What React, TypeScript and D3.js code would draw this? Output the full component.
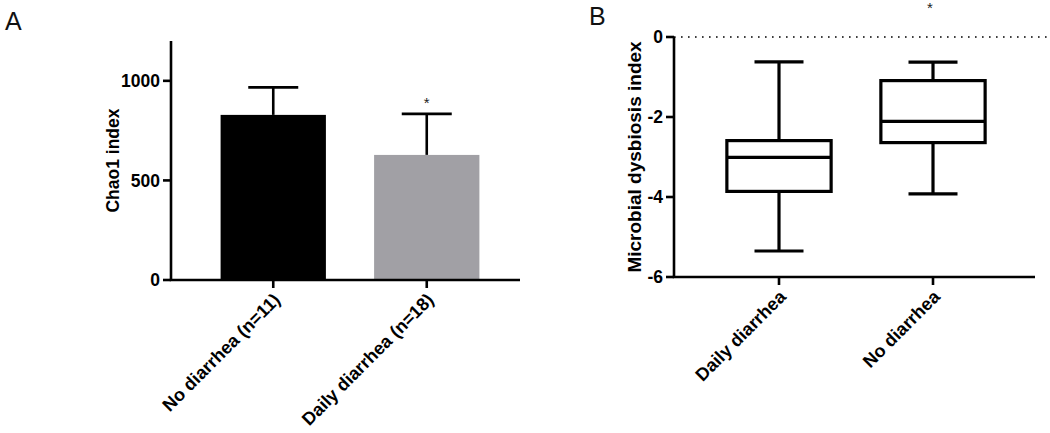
import React from "react";
import * as d3 from "d3";

// Panel A data
const barCategories = ["No diarrhea (n=11)", "Daily diarrhea (n=18)"];
const barMeans = [829, 628];
const barErrUpper = [967, 834];
const barColors = ["#000000", "#a1a0a5"];
const barStars = ["", "*"];
const chaoTicks = [0, 500, 1000];

// Panel B data
const boxCategories = ["Daily diarrhea", "No diarrhea"];
const boxMin = [-5.35, -3.92];
const boxQ1 = [-3.86, -2.64];
const boxMedian = [-3.01, -2.11];
const boxQ3 = [-2.59, -1.09];
const boxMax = [-0.62, -0.63];
const boxStars = ["", "*"];
const mdiTicks = [0, -2, -4, -6];

const FONT = "'Liberation Sans', Arial, Helvetica, sans-serif";

export default function App() {
  // Panel A scales
  const yA = d3.scaleLinear().domain([0, 1200]).range([280, 41]);
  const xA = d3.scaleBand().domain(barCategories).range([196.5, 503.5]).padding(0);
  const barW = xA.bandwidth() * 0.686;
  const capWA = 50;
  const axisAX = 171;

  // Panel B scales
  const yB = d3.scaleLinear().domain([-6, 0]).range([277, 37]);
  const xB = d3.scaleBand().domain(boxCategories).range([702, 1010]).padding(0);
  const boxW = xB.bandwidth() * 0.677;
  const capWB = 49;
  const axisBX = 674;

  const lw = 2.6;

  return (
    <svg
      width={1050}
      height={433}
      style={{ position: "absolute", left: 0, top: 0, background: "#fff" }}
      fontFamily={FONT}
    >
      {/* Panel letters */}
      <text x={5} y={30} fontSize={25} fill="#111">A</text>
      <text x={589} y={25} fontSize={25} fill="#111">B</text>

      {/* ===== Panel A ===== */}
      {barCategories.map((c, i) => {
        const cx = xA(c)! + xA.bandwidth() / 2;
        return (
          <g key={c}>
            <line x1={cx} x2={cx} y1={yA(barMeans[i])} y2={yA(barErrUpper[i])} stroke="#000" strokeWidth={lw} />
            <line x1={cx - capWA / 2} x2={cx + capWA / 2} y1={yA(barErrUpper[i])} y2={yA(barErrUpper[i])} stroke="#000" strokeWidth={lw} />
            <rect x={cx - barW / 2} y={yA(barMeans[i])} width={barW} height={yA(0) - yA(barMeans[i])} fill={barColors[i]} />
            {barStars[i] && (
              <text x={cx} y={yA(barErrUpper[i]) - 6} textAnchor="middle" fontSize={15} fill="#222">{barStars[i]}</text>
            )}
            <line x1={cx} x2={cx} y1={yA(0)} y2={yA(0) + 8} stroke="#000" strokeWidth={lw} />
            <text
              transform={`translate(${cx + 8},${yA(0) + 21}) rotate(-45)`}
              textAnchor="end"
              fontSize={18}
              fontWeight="bold"
              fill="#000"
            >
              {c}
            </text>
          </g>
        );
      })}
      {/* A axes */}
      <line x1={axisAX} x2={axisAX} y1={yA(1200)} y2={yA(0)} stroke="#000" strokeWidth={lw} />
      <line x1={axisAX - 1.3} x2={520} y1={yA(0)} y2={yA(0)} stroke="#000" strokeWidth={lw} />
      {chaoTicks.map((t) => (
        <g key={t}>
          <line x1={axisAX - 8} x2={axisAX} y1={yA(t)} y2={yA(t)} stroke="#000" strokeWidth={lw} />
          <text x={axisAX - 11} y={yA(t)} dy="0.36em" textAnchor="end" fontSize={17.5} fontWeight="bold" fill="#000">
            {t}
          </text>
        </g>
      ))}
      <text
        transform={`translate(${119},${yA(600)}) rotate(-90)`}
        textAnchor="middle"
        fontSize={17.5}
        fontWeight="bold"
        fill="#000"
      >
        Chao1 index
      </text>

      {/* ===== Panel B ===== */}
      <line x1={axisBX} x2={1050} y1={yB(0)} y2={yB(0)} stroke="#000" strokeWidth={1.6} strokeDasharray="1.6 5.4" />
      {boxCategories.map((c, i) => {
        const cx = xB(c)! + xB.bandwidth() / 2;
        const bw = 3.2;
        return (
          <g key={c}>
            <line x1={cx} x2={cx} y1={yB(boxMax[i])} y2={yB(boxQ3[i])} stroke="#000" strokeWidth={bw} />
            <line x1={cx} x2={cx} y1={yB(boxQ1[i])} y2={yB(boxMin[i])} stroke="#000" strokeWidth={bw} />
            <line x1={cx - capWB / 2} x2={cx + capWB / 2} y1={yB(boxMax[i])} y2={yB(boxMax[i])} stroke="#000" strokeWidth={bw} />
            <line x1={cx - capWB / 2} x2={cx + capWB / 2} y1={yB(boxMin[i])} y2={yB(boxMin[i])} stroke="#000" strokeWidth={bw} />
            <rect
              x={cx - boxW / 2}
              y={yB(boxQ3[i])}
              width={boxW}
              height={yB(boxQ1[i]) - yB(boxQ3[i])}
              fill="#fff"
              stroke="#000"
              strokeWidth={bw}
            />
            <line x1={cx - boxW / 2} x2={cx + boxW / 2} y1={yB(boxMedian[i])} y2={yB(boxMedian[i])} stroke="#000" strokeWidth={bw} />
            {boxStars[i] && (
              <text x={cx - 3} y={13} textAnchor="middle" fontSize={15} fill="#222">{boxStars[i]}</text>
            )}
            <line x1={cx} x2={cx} y1={yB(-6)} y2={yB(-6) + 8} stroke="#000" strokeWidth={lw} />
            <text
              transform={`translate(${cx + 8},${yB(-6) + 21}) rotate(-45)`}
              textAnchor="end"
              fontSize={18}
              fontWeight="bold"
              fill="#000"
            >
              {c}
            </text>
          </g>
        );
      })}
      <line x1={axisBX} x2={axisBX} y1={yB(0)} y2={yB(-6)} stroke="#000" strokeWidth={lw} />
      <line x1={axisBX - 1.3} x2={1035} y1={yB(-6)} y2={yB(-6)} stroke="#000" strokeWidth={lw} />
      {mdiTicks.map((t) => (
        <g key={t}>
          <line x1={axisBX - 8} x2={axisBX} y1={yB(t)} y2={yB(t)} stroke="#000" strokeWidth={lw} />
          <text x={axisBX - 11} y={yB(t)} dy="0.36em" textAnchor="end" fontSize={17.5} fontWeight="bold" fill="#000">
            {t}
          </text>
        </g>
      ))}
      <text
        transform={`translate(${641},${yB(-3)}) rotate(-90)`}
        textAnchor="middle"
        fontSize={19}
        fontWeight="bold"
        fill="#000"
      >
        Microbial dysbiosis index
      </text>
    </svg>
  );
}
